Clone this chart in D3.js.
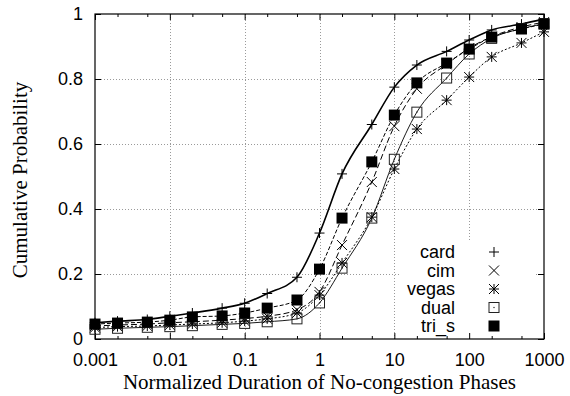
<!DOCTYPE html>
<html>
<head>
<meta charset="utf-8">
<script src="https://cdn.jsdelivr.net/npm/d3@7"></script>
<style>
  html, body { margin: 0; padding: 0; background: #fff; }
  svg { display: block; }
</style>
</head>
<body>
<svg id="chart" width="570" height="396"></svg>
<script>
// Sample points along the normalized duration axis (1-2-5 per decade)
const durations = [0.001, 0.002, 0.005, 0.01, 0.02, 0.05, 0.1, 0.2, 0.5, 1, 2, 5, 10, 20, 50, 100, 200, 500, 1000];

// Cumulative probability for each scheme at the sample points
const card  = [0.050, 0.055, 0.060, 0.070, 0.080, 0.095, 0.110, 0.140, 0.190, 0.326, 0.508, 0.660, 0.775, 0.843, 0.885, 0.920, 0.951, 0.969, 0.985];
const cim   = [0.040, 0.043, 0.046, 0.050, 0.053, 0.058, 0.063, 0.070, 0.090, 0.145, 0.289, 0.483, 0.655, 0.770, 0.845, 0.895, 0.930, 0.960, 0.975];
const vegas = [0.035, 0.038, 0.040, 0.043, 0.046, 0.050, 0.055, 0.062, 0.080, 0.135, 0.234, 0.375, 0.523, 0.646, 0.735, 0.806, 0.868, 0.911, 0.945];
const dual  = [0.030, 0.033, 0.036, 0.038, 0.041, 0.045, 0.048, 0.053, 0.062, 0.111, 0.218, 0.372, 0.553, 0.698, 0.803, 0.877, 0.925, 0.955, 0.970];
const tri_s = [0.046, 0.049, 0.052, 0.058, 0.068, 0.071, 0.080, 0.095, 0.120, 0.215, 0.372, 0.545, 0.689, 0.788, 0.849, 0.892, 0.929, 0.954, 0.969];

const seriesNames = ["card", "cim", "vegas", "dual", "tri_s"];
const seriesValues = [card, cim, vegas, dual, tri_s];

// Axis ticks
const xMajor = [0.001, 0.01, 0.1, 1, 10, 100, 1000];
const xMajorLabels = ["0.001", "0.01", "0.1", "1", "10", "100", "1000"];
const xMinor = [0.002, 0.005, 0.02, 0.05, 0.2, 0.5, 2, 5, 20, 50, 200, 500];
const yMajor = [0, 0.2, 0.4, 0.6, 0.8, 1];
const yMajorLabels = ["0", "0.2", "0.4", "0.6", "0.8", "1"];

const xTitle = "Normalized Duration of No-congestion Phases";
const yTitle = "Cumulative Probability";

// Layout
const L = 95, R = 544, T = 14, B = 339;
const svg = d3.select("#chart");

const x = d3.scaleLog().domain([0.001, 1000]).range([L, R]);
const y = d3.scaleLinear().domain([0, 1]).range([B, T]);

const sansFont = "'Liberation Sans', Arial, Helvetica, sans-serif";
const serifFont = "'Liberation Serif', 'Times New Roman', Times, serif";

// Grid (dotted) at the major ticks
const grid = svg.append("g").attr("stroke", "#9a9a9a").attr("stroke-width", 1)
  .attr("stroke-dasharray", "1,2").attr("shape-rendering", "crispEdges");
xMajor.slice(1, -1).forEach(v => {
  grid.append("line").attr("x1", Math.round(x(v)) + 0.5).attr("x2", Math.round(x(v)) + 0.5)
    .attr("y1", T).attr("y2", B);
});
yMajor.slice(1, -1).forEach(v => {
  grid.append("line").attr("x1", L).attr("x2", R)
    .attr("y1", Math.round(y(v)) + 0.5).attr("y2", Math.round(y(v)) + 0.5);
});

// Legend backdrop blanks the grid behind the key
svg.append("rect").attr("x", 400).attr("y", 242).attr("width", 134).attr("height", 96).attr("fill", "#fff");

// Axes with inward ticks, mirrored on the opposite sides
const major = 6, minor = 3;
const axB = svg.append("g").attr("transform", `translate(0,${B})`)
  .call(d3.axisBottom(x).tickValues(xMajor).tickSize(-major)
    .tickFormat((d, i) => xMajorLabels[i]));
const axBm = svg.append("g").attr("transform", `translate(0,${B})`)
  .call(d3.axisBottom(x).tickValues(xMinor).tickSize(-minor).tickFormat(""));
const axT = svg.append("g").attr("transform", `translate(0,${T})`)
  .call(d3.axisTop(x).tickValues(xMajor).tickSize(-major).tickFormat(""));
const axTm = svg.append("g").attr("transform", `translate(0,${T})`)
  .call(d3.axisTop(x).tickValues(xMinor).tickSize(-minor).tickFormat(""));
const axL = svg.append("g").attr("transform", `translate(${L},0)`)
  .call(d3.axisLeft(y).tickValues(yMajor).tickSize(-major)
    .tickFormat((d, i) => yMajorLabels[i]));
const axR = svg.append("g").attr("transform", `translate(${R},0)`)
  .call(d3.axisRight(y).tickValues(yMajor).tickSize(-major).tickFormat(""));

[axB, axBm, axT, axTm, axL, axR].forEach(g => {
  g.select(".domain").remove();
  g.selectAll(".tick line").attr("stroke", "#000").attr("stroke-width", 1);
  g.selectAll("text").attr("font-family", sansFont).attr("font-size", 18).attr("fill", "#000");
});
axB.selectAll(".tick text").attr("y", 27).attr("dy", 0);
axL.selectAll(".tick text").attr("x", -12).attr("dy", "0.3em");

// Plot border
svg.append("rect").attr("x", L).attr("y", T).attr("width", R - L).attr("height", B - T)
  .attr("fill", "none").attr("stroke", "#000").attr("stroke-width", 1.2);

// Axis titles
svg.append("text").attr("x", (L + R) / 2).attr("y", 389).attr("text-anchor", "middle")
  .attr("font-family", serifFont).attr("font-size", 21).text(xTitle);
svg.append("text").attr("transform", `translate(27,180) rotate(-90)`)
  .attr("text-anchor", "middle").attr("font-family", serifFont).attr("font-size", 21).text(yTitle);

// Line styles per scheme
const styles = {
  card:  { width: 1.6, dash: null },
  cim:   { width: 1.0, dash: "6,3" },
  vegas: { width: 1.0, dash: "2,2" },
  dual:  { width: 0.9, dash: null },
  tri_s: { width: 1.0, dash: "4,2" }
};

const line = d3.line().x(d => x(d[0])).y(d => y(d[1])).curve(d3.curveMonotoneX);

seriesNames.forEach((name, k) => {
  const pts = durations.map((d, i) => [d, seriesValues[k][i]]);
  svg.append("path").datum(pts).attr("d", line)
    .attr("fill", "none").attr("stroke", "#000")
    .attr("stroke-width", styles[name].width)
    .attr("stroke-dasharray", styles[name].dash);
});

// Point markers
function marker(g, name, cx, cy) {
  const s = 5;
  if (name === "card") {
    g.append("path").attr("d", `M${cx - s},${cy}H${cx + s}M${cx},${cy - s}V${cy + s}`)
      .attr("stroke", "#000").attr("stroke-width", 1).attr("fill", "none");
  } else if (name === "cim") {
    g.append("path").attr("d", `M${cx - s},${cy - s}L${cx + s},${cy + s}M${cx - s},${cy + s}L${cx + s},${cy - s}`)
      .attr("stroke", "#000").attr("stroke-width", 1).attr("fill", "none");
  } else if (name === "vegas") {
    g.append("path").attr("d", `M${cx - s},${cy}H${cx + s}M${cx},${cy - s}V${cy + s}M${cx - s},${cy - s}L${cx + s},${cy + s}M${cx - s},${cy + s}L${cx + s},${cy - s}`)
      .attr("stroke", "#000").attr("stroke-width", 1).attr("fill", "none");
  } else if (name === "dual") {
    g.append("rect").attr("x", cx - 5).attr("y", cy - 5).attr("width", 10).attr("height", 10)
      .attr("fill", "none").attr("stroke", "#222").attr("stroke-width", 1);
    g.append("rect").attr("x", cx - 0.6).attr("y", cy - 0.6).attr("width", 1.2).attr("height", 1.2).attr("fill", "#222");
  } else {
    g.append("rect").attr("x", cx - 5.5).attr("y", cy - 5.5).attr("width", 11).attr("height", 11).attr("fill", "#000");
  }
}

seriesNames.forEach((name, k) => {
  const g = svg.append("g").attr("class", "points " + name);
  durations.forEach((d, i) => marker(g, name, x(d), y(seriesValues[k][i])));
});

// Legend: names right-aligned, marker to the right
const legend = svg.append("g");
seriesNames.forEach((name, k) => {
  const cy = 252 + k * 18.5;
  legend.append("text").attr("x", 455).attr("y", cy).attr("dy", "0.36em").attr("text-anchor", "end")
    .attr("font-family", sansFont).attr("font-size", 18).text(name);
  marker(legend, name, 494, cy);
});
</script>
</body>
</html>
